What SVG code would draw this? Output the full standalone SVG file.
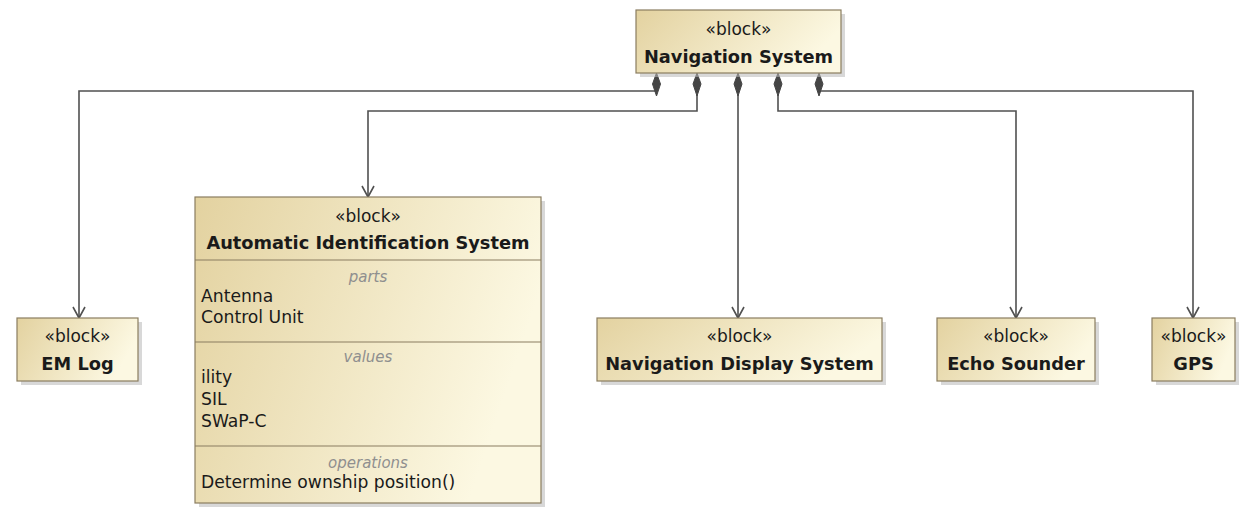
<svg xmlns="http://www.w3.org/2000/svg" width="1242" height="512" viewBox="0 0 1242 512">
  <style>
    .box { fill: url(#blockFill); stroke: #8a7d60; stroke-width: 1.2; }
    .shadow { fill: #b8b8b8; opacity: 0.55; }
    .div { stroke: #8a7d60; stroke-width: 1.2; }
    .stereo { font-family: "DejaVu Sans", sans-serif; font-size: 17px; fill: #1a1a1a; text-anchor: middle; }
    .name { font-family: "DejaVu Sans", sans-serif; font-size: 17.8px; font-weight: bold; fill: #1a1a1a; text-anchor: middle; }
    .comp { font-family: "DejaVu Sans", sans-serif; font-size: 15px; font-style: italic; fill: #8f8f8f; text-anchor: middle; }
    .item { font-family: "DejaVu Sans", sans-serif; font-size: 17.2px; fill: #1a1a1a; }
    .wire { fill: none; stroke: #505050; stroke-width: 1.6; }
    .diamond { fill: #454545; stroke: #454545; stroke-width: 1; }
  </style>
  <defs>
    <linearGradient id="blockFill" x1="0" y1="0" x2="1" y2="0.3">
      <stop offset="0" stop-color="#e3d2a0"/>
      <stop offset="1" stop-color="#fcf8e2"/>
    </linearGradient>
    <marker id="openArrow" viewBox="0 0 14 14" refX="12" refY="7" markerWidth="14" markerHeight="14" markerUnits="userSpaceOnUse" orient="auto">
      <path d="M1,1 L12,7 L1,13" fill="none" stroke="#505050" stroke-width="1.6"/>
    </marker>
  </defs>

  <rect width="1242" height="512" fill="#ffffff"/>

  <!-- composition connectors -->
  <g id="connectors">
    <path class="wire" d="M656,91 H79 V318" marker-end="url(#openArrow)"/>
    <path class="wire" d="M697,95 V111 H368 V197" marker-end="url(#openArrow)"/>
    <path class="wire" d="M738,95 V318" marker-end="url(#openArrow)"/>
    <path class="wire" d="M778,95 V111 H1016 V318" marker-end="url(#openArrow)"/>
    <path class="wire" d="M819,91 H1193 V318" marker-end="url(#openArrow)"/>
    <!-- composite (whole) ends -->
    <path class="diamond" d="M656.5,73 L660.5,84 L656.5,96 L652.5,84 Z"/>
    <path class="diamond" d="M697,73 L701,84 L697,96 L693,84 Z"/>
    <path class="diamond" d="M738,73 L742,84 L738,96 L734,84 Z"/>
    <path class="diamond" d="M778,73 L782,84 L778,96 L774,84 Z"/>
    <path class="diamond" d="M819,73 L823,84 L819,96 L815,84 Z"/>
  </g>

  <g id="navigation-system">
    <rect class="shadow" x="640" y="14" width="205" height="63"/>
    <rect class="box" x="636" y="10" width="205" height="63"/>
    <text class="stereo" x="738.5" y="35">«block»</text>
    <text class="name" x="738.5" y="63">Navigation System</text>
  </g>

  <g id="em-log">
    <rect class="shadow" x="21" y="322" width="121" height="63"/>
    <rect class="box" x="17" y="318" width="121" height="63"/>
    <text class="stereo" x="77.5" y="342">«block»</text>
    <text class="name" x="77.5" y="370">EM Log</text>
  </g>

  <g id="automatic-identification-system">
    <rect class="shadow" x="199" y="201" width="346" height="306"/>
    <rect class="box" x="195" y="197" width="346" height="306"/>
    <text class="stereo" x="368" y="222">«block»</text>
    <text class="name" x="368" y="249">Automatic Identification System</text>
    <line class="div" x1="195" y1="260" x2="541" y2="260"/>
    <text class="comp" x="368" y="282">parts</text>
    <text class="item" x="201" y="302">Antenna</text>
    <text class="item" x="201" y="323">Control Unit</text>
    <line class="div" x1="195" y1="342" x2="541" y2="342"/>
    <text class="comp" x="368" y="362">values</text>
    <text class="item" x="201" y="383">ility</text>
    <text class="item" x="201" y="405">SIL</text>
    <text class="item" x="201" y="427">SWaP-C</text>
    <line class="div" x1="195" y1="446" x2="541" y2="446"/>
    <text class="comp" x="368" y="468">operations</text>
    <text class="item" x="201" y="488">Determine ownship position()</text>
  </g>

  <g id="navigation-display-system">
    <rect class="shadow" x="601" y="322" width="285" height="63"/>
    <rect class="box" x="597" y="318" width="285" height="63"/>
    <text class="stereo" x="739.5" y="342">«block»</text>
    <text class="name" x="739.5" y="370">Navigation Display System</text>
  </g>

  <g id="echo-sounder">
    <rect class="shadow" x="941" y="322" width="158" height="63"/>
    <rect class="box" x="937" y="318" width="158" height="63"/>
    <text class="stereo" x="1016" y="342">«block»</text>
    <text class="name" x="1016" y="370">Echo Sounder</text>
  </g>

  <g id="gps">
    <rect class="shadow" x="1156" y="322" width="83" height="63"/>
    <rect class="box" x="1152" y="318" width="83" height="63"/>
    <text class="stereo" x="1193.5" y="342">«block»</text>
    <text class="name" x="1193.5" y="370">GPS</text>
  </g>
</svg>
